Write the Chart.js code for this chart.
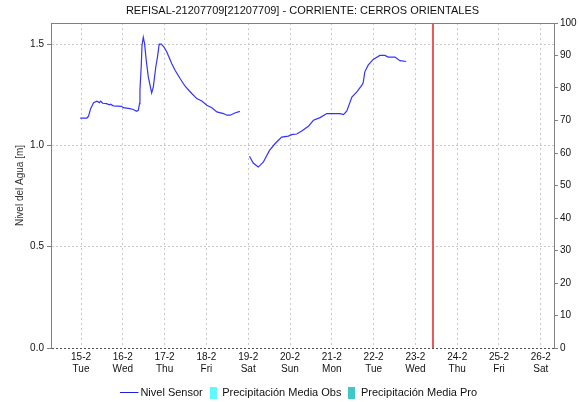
<!DOCTYPE html>
<html>
<head>
<meta charset="utf-8">
<script src="https://cdn.jsdelivr.net/npm/chart.js@4/dist/chart.umd.min.js"></script>
<style>
  html, body { margin: 0; padding: 0; background: #fff; }
</style>
</head>
<body>
<canvas id="chart" width="579" height="402"></canvas>
<script>
// Daten (Tage relativ zum 15-2, Pegel in m)
const sensorDays = [
    -0.02, 0.14, 0.18, 0.23, 0.30, 0.38, 0.44, 0.47, 0.52, 0.61, 0.68, 0.71, 0.77, 0.97, 1.01,
    1.17, 1.25, 1.33, 1.37, 1.40, 1.41, 1.44, 1.46, 1.49, 1.52, 1.56, 1.61, 1.69, 1.73, 1.79,
    1.83, 1.87, 1.92, 1.99, 2.05, 2.17, 2.25, 2.37, 2.49, 2.65, 2.77, 2.89, 3.01, 3.13, 3.25,
    3.41, 3.49, 3.57, 3.68, 3.80,
    3.92,
    4.03, 4.12, 4.24, 4.36, 4.51, 4.64, 4.80, 4.96, 5.04, 5.16, 5.28, 5.44, 5.56, 5.72, 5.88,
    6.20, 6.28, 6.36, 6.48, 6.60, 6.72, 6.75, 6.79, 6.87, 6.99, 7.15, 7.27, 7.35, 7.51, 7.63, 7.78
];
const sensorLevel = [
    1.135, 1.135, 1.144, 1.181, 1.211, 1.218, 1.211, 1.218, 1.208, 1.206, 1.200, 1.203, 1.195, 1.193, 1.186,
    1.181, 1.177, 1.168, 1.173, 1.206, 1.272, 1.388, 1.495, 1.533, 1.503, 1.421, 1.338, 1.259, 1.289, 1.388,
    1.437, 1.500, 1.500, 1.484, 1.462, 1.404, 1.371, 1.330, 1.292, 1.256, 1.231, 1.219, 1.198, 1.186, 1.165,
    1.157, 1.149, 1.149, 1.160, 1.168,
    null,
    0.946, 0.913, 0.893, 0.917, 0.975, 1.008, 1.041, 1.046, 1.053, 1.056, 1.071, 1.094, 1.124, 1.137, 1.157,
    1.157, 1.152, 1.170, 1.239, 1.264, 1.297, 1.309, 1.363, 1.396, 1.424, 1.444, 1.444, 1.436, 1.436, 1.418, 1.414
];
const dayLabels = ['15-2', '16-2', '17-2', '18-2', '19-2', '20-2', '21-2', '22-2', '23-2', '24-2', '25-2', '26-2'];
const weekdayLabels = ['Tue', 'Wed', 'Thu', 'Fri', 'Sat', 'Sun', 'Mon', 'Tue', 'Wed', 'Thu', 'Fri', 'Sat'];
const levelTicks = [0, 0.5, 1.0, 1.5];
const precipTicks = [0, 10, 20, 30, 40, 50, 60, 70, 80, 90, 100];
const precipObs = [];
const precipPro = [];
const currentDay = 8.42;

const dayMin = -0.718;
const dayMax = 11.316;
const levelMax = 1.604;

// kleine Legendensymbole (Canvas als pointStyle)
function makeSwatch(w, h, color, lineLen) {
    const c = document.createElement('canvas');
    c.width = w;
    c.height = h;
    const g = c.getContext('2d');
    g.fillStyle = color;
    if (lineLen) {
        g.fillRect(0, Math.floor(h / 2), lineLen, 1);
    } else {
        g.fillRect(0, 0, w, h);
    }
    return c;
}

const sensorData = sensorDays.map((d, i) => ({ x: d, y: sensorLevel[i] }));
const nowLine = [{ x: currentDay, y: 0 }, { x: currentDay, y: levelMax }];

const gridGray = '#c8c8c8';
const axisGray = '#808080';
const font10 = { family: 'Liberation Sans, Arial', size: 10 };

const ctx = document.getElementById('chart').getContext('2d');
new Chart(ctx, {
    type: 'line',
    data: {
        datasets: [
            {
                label: 'Nivel Sensor',
                data: sensorData,
                borderColor: '#3333ff',
                borderWidth: 1.2,
                pointRadius: 0,
                tension: 0,
                spanGaps: false,
                yAxisID: 'y',
                pointStyle: makeSwatch(22, 3, '#2020e0', 18)
            },
            {
                type: 'bar',
                label: 'Precipitación Media Obs',
                data: precipObs,
                backgroundColor: '#5ff8ff',
                yAxisID: 'y2',
                pointStyle: makeSwatch(7, 12, '#5ff8ff')
            },
            {
                type: 'bar',
                label: 'Precipitación Media Pro',
                data: precipPro,
                backgroundColor: '#3fc8c8',
                yAxisID: 'y2',
                pointStyle: makeSwatch(7, 12, '#3fc8c8')
            },
            {
                label: 'hoy',
                data: nowLine,
                borderColor: '#e45a5a',
                borderWidth: 2,
                pointRadius: 0,
                yAxisID: 'y'
            },
            {
                label: 'hoy2',
                data: nowLine,
                borderColor: '#a01010',
                borderWidth: 1,
                borderDash: [2, 5],
                pointRadius: 0,
                yAxisID: 'y'
            }
        ]
    },
    options: {
        responsive: false,
        animation: false,
        layout: { padding: { left: 0, right: 0, top: 0, bottom: -6 } },
        plugins: {
            title: {
                display: true,
                fullSize: false,
                text: 'REFISAL-21207709[21207709] - CORRIENTE: CERROS ORIENTALES',
                color: '#111',
                font: { family: 'Liberation Sans, Arial', size: 11, weight: 'normal' },
                padding: { top: 4, bottom: 5.8 }
            },
            legend: {
                position: 'bottom',
                fullSize: false,
                labels: {
                    usePointStyle: true,
                    pointStyleWidth: 7,
                    boxHeight: 12,
                    padding: 7,
                    color: '#111',
                    font: { family: 'Liberation Sans, Arial', size: 11 },
                    filter: item => item.text.indexOf('hoy') !== 0
                }
            },
            tooltip: { enabled: false }
        },
        scales: {
            x: {
                type: 'linear',
                position: 'bottom',
                offset: false,
                min: dayMin,
                max: dayMax,
                afterBuildTicks: scale => {
                    scale.ticks = dayLabels.map((_, i) => ({ value: i }));
                },
                afterFit: scale => { scale.height = 32; },
                ticks: {
                    autoSkip: false,
                    maxRotation: 0,
                    padding: 3,
                    color: '#111',
                    font: font10,
                    callback: (value, index) => [dayLabels[index], weekdayLabels[index]]
                },
                grid: { color: gridGray, drawTicks: false, offset: false },
                border: { display: false, dash: [2, 3] }
            },
            xTop: {
                type: 'linear',
                position: 'top',
                offset: false,
                min: dayMin,
                max: dayMax,
                afterFit: scale => { scale.height = 0; },
                ticks: { display: false },
                grid: { display: false },
                border: { color: axisGray, width: 1 }
            },
            y: {
                type: 'linear',
                position: 'left',
                min: 0,
                max: levelMax,
                afterBuildTicks: scale => {
                    scale.ticks = levelTicks.map(v => ({ value: v }));
                },
                afterFit: scale => { scale.width = 51; },
                ticks: {
                    padding: 3,
                    color: '#111',
                    font: font10,
                    callback: v => v.toFixed(1)
                },
                grid: {
                    color: c => (c.tick && c.tick.value === 0 ? '#505050' : gridGray),
                    tickColor: axisGray,
                    tickLength: 4
                },
                border: { color: axisGray, width: 1, dash: [2, 2] },
                title: {
                    display: true,
                    text: 'Nivel del Agua [m]',
                    color: '#333',
                    font: font10,
                    padding: { top: 14, bottom: 0 }
                }
            },
            y2: {
                type: 'linear',
                position: 'right',
                min: 0,
                max: 100,
                afterBuildTicks: scale => {
                    scale.ticks = precipTicks.map(v => ({ value: v }));
                },
                afterFit: scale => { scale.width = 25; },
                ticks: {
                    padding: 2,
                    color: '#111',
                    font: font10
                },
                grid: { drawOnChartArea: false, tickColor: axisGray, tickLength: 4 },
                border: { color: axisGray, width: 1 }
            }
        }
    }
});
</script>
</body>
</html>
